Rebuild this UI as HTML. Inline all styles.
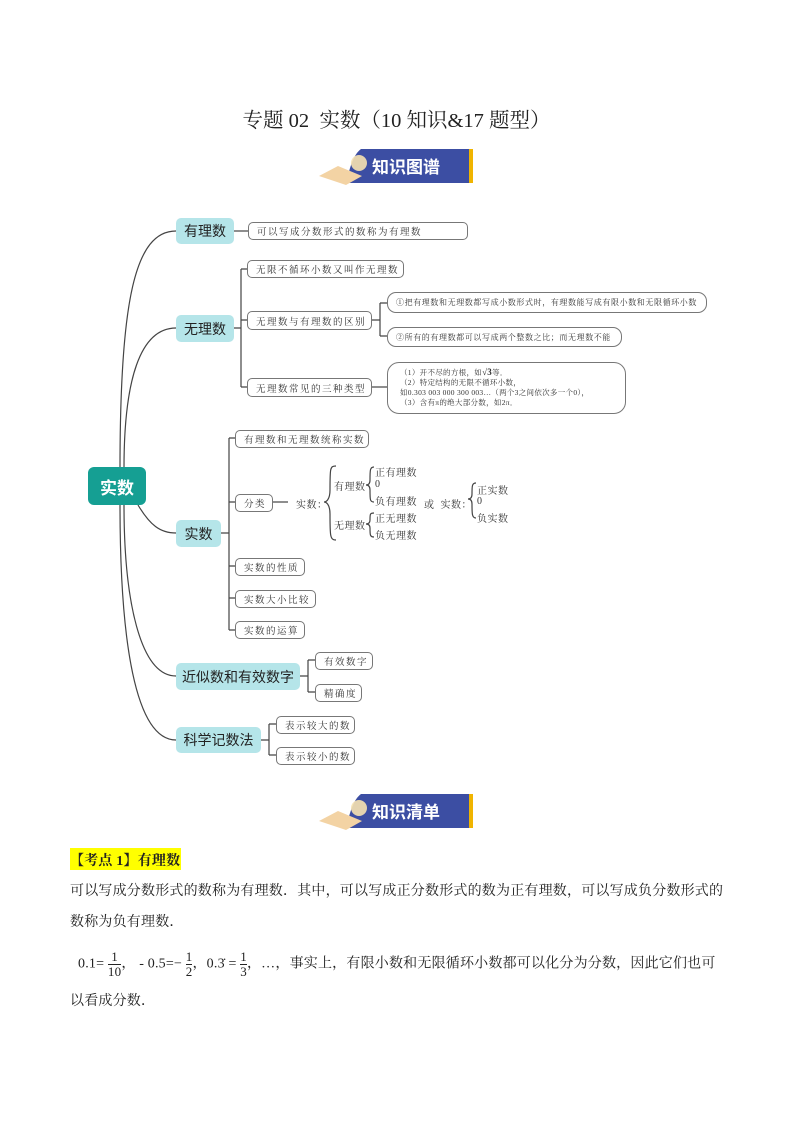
<!DOCTYPE html>
<html><head><meta charset="utf-8"><style>
body{margin:0;width:793px;height:1122px;background:#fff;position:relative;overflow:hidden;font-family:"Liberation Serif","Noto Serif CJK SC",serif;color:#222}
.a{position:absolute}
.l1{position:absolute;background:#b5e5e9;border-radius:5px;font-family:"Liberation Sans","Noto Sans CJK SC",sans-serif;font-size:14px;color:#222;display:flex;align-items:center;justify-content:center}
.lf{position:absolute;border:1px solid #777;border-radius:5px;font-size:9.5px;letter-spacing:1.5px;display:flex;align-items:center;padding-left:8px;box-sizing:border-box;background:#fff;color:#333;white-space:nowrap}
.cl{position:absolute;font-size:10px;letter-spacing:.5px;color:#333;white-space:nowrap}
.p{position:absolute;left:70px;font-size:14px;white-space:nowrap;letter-spacing:.2px}
.bn{position:absolute;width:160px;height:40px}
</style></head><body>
<div class="a" style="left:0;width:793px;top:103px;text-align:center;font-size:20.5px">专题 02&nbsp; 实数（10 知识&amp;17 题型）</div>

<svg class="a" style="left:0;top:0" width="793" height="1122">
<g fill="none" stroke="#444" stroke-width="1.2">
<path d="M120,468 C120,300 135,231 176,231"/>
<path d="M124,468 C124,380 140,328 176,328"/>
<path d="M138,505 C150,525 160,533 176,533"/>
<path d="M124,505 C124,600 140,676 176,676"/>
<path d="M120,505 C120,640 135,740 176,740"/>
<path d="M234,231 H248"/>
<path d="M234,328 H241 M241,269 V387 M241,269 H247 M241,320 H247 M241,387 H247"/>
<path d="M372,320 H380 M380,303 V336 M380,303 H387 M380,336 H387"/>
<path d="M372,387 H387"/>
<path d="M221,533 H229 M229,438 V630 M229,438 H235 M229,502 H235 M229,566 H235 M229,598 H235 M229,630 H235"/>
<path d="M273,502 H288"/>
<path d="M300,676 H308 M308,660 V692 M308,660 H315 M308,692 H315"/>
<path d="M261,740 H269 M269,724 V755 M269,724 H276 M269,755 H276"/>
<path d="M336,466 C330,466 330,468 330,490 C330,500 326,502 324,502 C326,502 330,504 330,514 C330,536 330,540 336,540"/>
<path d="M374,467 C370,467 370,470 370,480 C370,484 368,485 366,485 C368,485 370,486 370,490 C370,500 370,502 374,502"/>
<path d="M374,513 C370,513 370,514 370,520 C370,523 368,524 366,524 C368,524 370,525 370,528 C370,535 370,537 374,537"/>
<path d="M476,483 C472,483 472,486 472,494 C472,498 470,499 468,499 C470,499 472,500 472,504 C472,514 472,518 476,518"/>
</g>
</svg>

<svg class="bn" style="left:316px;top:146px" viewBox="0 0 160 40"><path d="M45,3 H156 V37 H30 C34,20 38,8 45,3Z" fill="#3c4ea3"/><rect x="153" y="3" width="4" height="34" fill="#f0b400"/><path d="M3,30 L22,20 L46,30 L30,39 Z" fill="#f3d3a4"/><circle cx="43" cy="17" r="8" fill="#f6e2b0" opacity=".9"/><text x="56" y="27" fill="#fff" font-size="17" font-family="Liberation Sans,Noto Sans CJK SC,sans-serif" font-weight="bold">知识图谱</text></svg>
<svg class="bn" style="left:316px;top:791px" viewBox="0 0 160 40"><path d="M45,3 H156 V37 H30 C34,20 38,8 45,3Z" fill="#3c4ea3"/><rect x="153" y="3" width="4" height="34" fill="#f0b400"/><path d="M3,30 L22,20 L46,30 L30,39 Z" fill="#f3d3a4"/><circle cx="43" cy="17" r="8" fill="#f6e2b0" opacity=".9"/><text x="56" y="27" fill="#fff" font-size="17" font-family="Liberation Sans,Noto Sans CJK SC,sans-serif" font-weight="bold">知识清单</text></svg>

<div class="a" style="left:88px;top:467px;width:58px;height:38px;background:#159f93;border-radius:6px;color:#fff;font-family:'Liberation Sans','Noto Sans CJK SC',sans-serif;font-weight:bold;font-size:17px;display:flex;align-items:center;justify-content:center">实数</div>

<div class="l1" style="left:176px;top:218px;width:58px;height:26px">有理数</div>
<div class="l1" style="left:176px;top:315px;width:58px;height:27px">无理数</div>
<div class="l1" style="left:176px;top:520px;width:45px;height:27px">实数</div>
<div class="l1" style="left:176px;top:663px;width:124px;height:27px">近似数和有效数字</div>
<div class="l1" style="left:176px;top:727px;width:85px;height:26px">科学记数法</div>

<div class="lf" style="left:248px;top:222px;width:220px;height:18px">可以写成分数形式的数称为有理数</div>
<div class="lf" style="left:247px;top:260px;width:157px;height:18px">无限不循环小数又叫作无理数</div>
<div class="lf" style="left:247px;top:311px;width:125px;height:19px">无理数与有理数的区别</div>
<div class="lf" style="left:387px;top:292px;width:320px;height:21px;font-size:8px;letter-spacing:.6px;border-radius:9px">①把有理数和无理数都写成小数形式时，有理数能写成有限小数和无限循环小数</div>
<div class="lf" style="left:387px;top:327px;width:235px;height:20px;font-size:8px;letter-spacing:.6px;border-radius:9px">②所有的有理数都可以写成两个整数之比；而无理数不能</div>
<div class="lf" style="left:247px;top:378px;width:125px;height:19px">无理数常见的三种类型</div>
<div class="lf" style="left:387px;top:362px;width:239px;height:52px;border-radius:12px;font-size:7.5px;letter-spacing:.3px;line-height:10px;display:block;padding-top:4px;padding-left:12px">（1）开不尽的方根，如<b style="font-size:9px">√3</b>等．<br>（2）特定结构的无限不循环小数，<br>如0.303 003 000 300 003…（两个3之间依次多一个0），<br>（3）含有π的绝大部分数，如2π．</div>

<div class="lf" style="left:235px;top:430px;width:134px;height:18px">有理数和无理数统称实数</div>
<div class="lf" style="left:235px;top:494px;width:38px;height:18px">分类</div>
<div class="lf" style="left:235px;top:558px;width:70px;height:18px">实数的性质</div>
<div class="lf" style="left:235px;top:590px;width:81px;height:18px">实数大小比较</div>
<div class="lf" style="left:235px;top:621px;width:70px;height:18px">实数的运算</div>
<div class="lf" style="left:315px;top:652px;width:58px;height:18px">有效数字</div>
<div class="lf" style="left:315px;top:684px;width:47px;height:18px">精确度</div>
<div class="lf" style="left:276px;top:716px;width:79px;height:18px">表示较大的数</div>
<div class="lf" style="left:276px;top:747px;width:79px;height:18px">表示较小的数</div>

<div class="cl" style="left:296px;top:496px">实数：</div>
<div class="cl" style="left:334px;top:478px">有理数</div>
<div class="cl" style="left:375px;top:464px">正有理数</div>
<div class="cl" style="left:375px;top:479px">0</div>
<div class="cl" style="left:375px;top:493px">负有理数</div>
<div class="cl" style="left:334px;top:517px">无理数</div>
<div class="cl" style="left:375px;top:510px">正无理数</div>
<div class="cl" style="left:375px;top:527px">负无理数</div>
<div class="cl" style="left:424px;top:496px">或&nbsp; 实数：</div>
<div class="cl" style="left:477px;top:482px">正实数</div>
<div class="cl" style="left:477px;top:496px">0</div>
<div class="cl" style="left:477px;top:510px">负实数</div>

<div class="a" style="left:70px;top:848px;width:111px;height:22px;background:#ffff00"></div>
<div class="p" style="top:850px;font-weight:bold">【考点 1】有理数</div>
<div class="p" style="top:880px">可以写成分数形式的数称为有理数．其中，可以写成正分数形式的数为正有理数，可以写成负分数形式的</div>
<div class="p" style="top:911px">数称为负有理数．</div>
<div class="p" style="top:950px;left:78px">0.1= <span style="display:inline-block;vertical-align:middle;text-align:center;font-size:13px;line-height:14px"><span style="border-bottom:1px solid #222;display:block">1</span>10</span>，&nbsp;- 0.5=− <span style="display:inline-block;vertical-align:middle;text-align:center;font-size:13px;line-height:14px"><span style="border-bottom:1px solid #222;display:block">1</span>2</span>，0.3̇ = <span style="display:inline-block;vertical-align:middle;text-align:center;font-size:13px;line-height:14px"><span style="border-bottom:1px solid #222;display:block">1</span>3</span>，…，事实上，有限小数和无限循环小数都可以化分为分数，因此它们也可</div>
<div class="p" style="top:990px">以看成分数．</div>
</body></html>
